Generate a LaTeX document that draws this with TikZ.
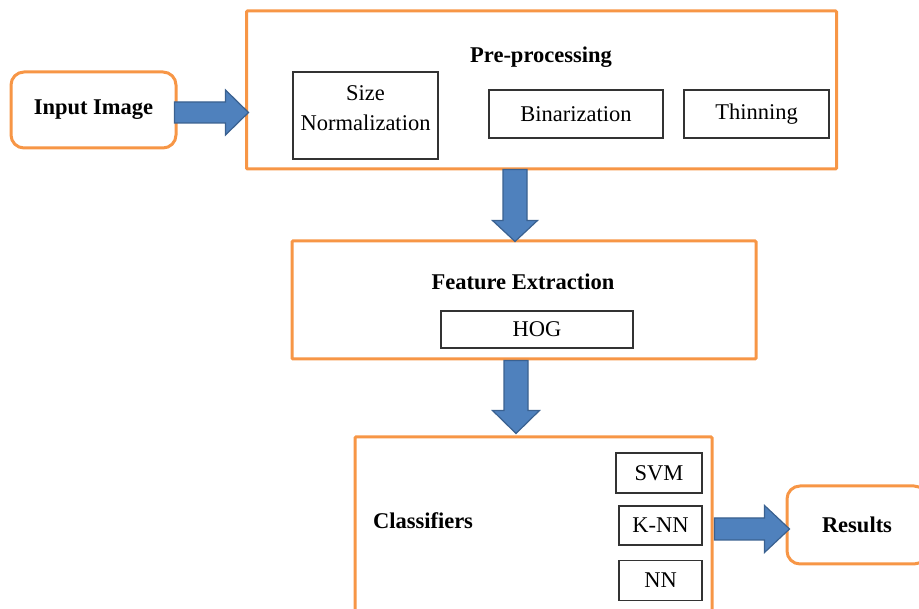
\documentclass[tikz,border=0pt]{standalone}
\usepackage{fontspec}
\setmainfont{Liberation Serif}
\usetikzlibrary{calc}
\definecolor{orangeb}{HTML}{F79646}
\definecolor{bluef}{HTML}{4F81BD}
\definecolor{blued}{HTML}{3A6190}
\begin{document}
\begin{tikzpicture}[x=1pt,y=1pt,
  every node/.style={font=\fontsize{22.5}{30}\selectfont, inner sep=0pt},
  outer/.style={draw=orangeb, line width=3pt, rounded corners=1pt, fill=white},
  roundbox/.style={draw=orangeb, line width=3pt, rounded corners=13pt, fill=white},
  inbox/.style={draw=black!80, line width=1.1pt, fill=white},
  title/.style={font=\fontsize{22.5}{30}\selectfont\bfseries},
  barrow/.style={fill=bluef, draw=blued, line width=1.2pt, line join=miter}
]
\useasboundingbox (0,0) rectangle (919,609);

% Input
\node[roundbox, minimum width=165pt, minimum height=76pt, title] (inp) at (93.5,499) {Input Image};

% Pre-processing
\node[outer, minimum width=590pt, minimum height=158pt] (pre) at (541.5,519) {};
\node[title] (pret) at (541,552) {Pre-processing};
\node[inbox, minimum width=145pt, minimum height=87pt] (sn) at (365.5,493.5) {};
\node[align=center] (snt) at (365.5,501) {Size\\Normalization};
\node[inbox, minimum width=174pt, minimum height=48pt] (bin) at (576,495) {Binarization};
\node[inbox, minimum width=145pt, minimum height=48pt] (thin) at (756.5,495) {Thinning};

% Feature extraction
\node[outer, minimum width=464pt, minimum height=118pt] (feat) at (524,309) {};
\node[title] (featt) at (523,327) {Feature Extraction};
\node[inbox, minimum width=192pt, minimum height=37pt] (hog) at (537,279.5) {HOG};

% Classifiers
\node[outer, minimum width=357pt, minimum height=183pt] (cls) at (533.5,80.5) {};
\node[title] (clst) at (423,88) {Classifiers};
\node[inbox, minimum width=86pt, minimum height=40pt] (svm) at (659,136) {SVM};
\node[inbox, minimum width=83pt, minimum height=39pt] (knn) at (660.5,83.5) {K-NN};
\node[inbox, minimum width=83pt, minimum height=40pt] (nn) at (660.5,28.5) {NN};

% Results
\node[roundbox, minimum width=140pt, minimum height=78pt, title] (res) at (857,84) {Results};

% Arrows
\path[barrow] let \p1=($(inp.east)+(-3,-2.5)$), \p2=($(pre.west)+(3.5,0)$) in
  (\x1,\y1+10.5pt) -- (\x2-23pt,\y1+10.5pt) -- (\x2-23pt,\y1+22.5pt) -- (\x2,\y1)
  -- (\x2-23pt,\y1-22.5pt) -- (\x2-23pt,\y1-10.5pt) -- (\x1,\y1-10.5pt) -- cycle;

\path[barrow] let \p1=($(pre.south)+(-26.5,1)$), \p2=($(feat.north)+(0,-2)$) in
  (\x1-12pt,\y1) -- (\x1-12pt,\y2+21pt) -- (\x1-22.5pt,\y2+21pt) -- (\x1,\y2)
  -- (\x1+22.5pt,\y2+21pt) -- (\x1+12pt,\y2+21pt) -- (\x1+12pt,\y1) -- cycle;

\path[barrow] let \p1=($(feat.south)+(-8,0)$), \p2=($(cls.north)+(0,2)$) in
  (\x1-12pt,\y1) -- (\x1-12pt,\y2+23pt) -- (\x1-23.5pt,\y2+23pt) -- (\x1,\y2)
  -- (\x1+23.5pt,\y2+23pt) -- (\x1+12pt,\y2+23pt) -- (\x1+12pt,\y1) -- cycle;

\path[barrow] let \p1=($(cls.east)+(1,-0.5)$), \p2=($(res.west)+(4,0)$) in
  (\x1,\y1+11pt) -- (\x2-25pt,\y1+11pt) -- (\x2-25pt,\y1+23.5pt) -- (\x2,\y1)
  -- (\x2-25pt,\y1-23.5pt) -- (\x2-25pt,\y1-11pt) -- (\x1,\y1-11pt) -- cycle;
\end{tikzpicture}
\end{document}
